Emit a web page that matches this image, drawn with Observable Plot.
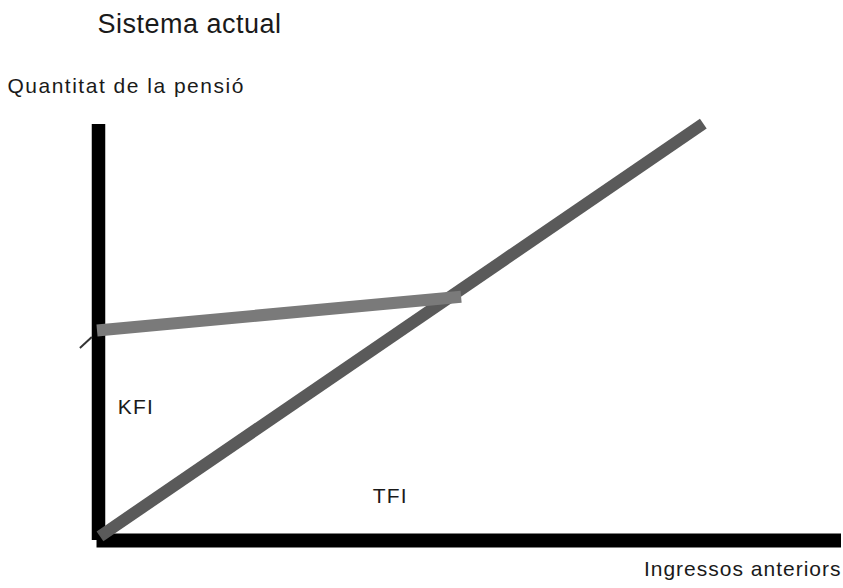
<!DOCTYPE html>
<html>
<head>
<meta charset="utf-8">
<script src="https://cdn.jsdelivr.net/npm/d3@7"></script>
<script src="https://cdn.jsdelivr.net/npm/@observablehq/plot@0.6"></script>
<style>
  html, body { margin: 0; padding: 0; background: #fff; }
  #chart svg { display: block; }
</style>
</head>
<body>
<div id="chart"></div>
<script>
// Chart texts
const title = "Sistema actual";
const yLabel = "Quantitat de la pensió";
const xLabel = "Ingressos anteriors";

// TFI line (pension proportional to previous income)
const tfiX = [0.2, 81.4];
const tfiY = [1.0, 100.2];

// KFI line (flat-ish minimum pension)
const kfiX = [-0.2, 48.8];
const kfiY = [50.5, 58.6];

// Small tick at the y axis
const tickX = [-2.5, -0.9];
const tickY = [46.3, 48.9];

// Area labels
const areaLabels = ["KFI", "TFI"];
const areaLabelX = [2.6, 36.9];
const areaLabelY = [30.5, 9.1];

const tfi = tfiX.map((x, i) => ({x, y: tfiY[i]}));
const kfi = kfiX.map((x, i) => ({x, y: kfiY[i]}));
const tick = tickX.map((x, i) => ({x, y: tickY[i]}));
const labels = areaLabels.map((t, i) => ({t, x: areaLabelX[i], y: areaLabelY[i]}));

const font = "'Liberation Sans', Arial, Helvetica, sans-serif";
const textColor = "#1a1a1a";

const chart = Plot.plot({
  width: 843,
  height: 588,
  marginLeft: 98,
  marginRight: 2,
  marginTop: 124,
  marginBottom: 48,
  x: {domain: [0, 100], axis: null},
  y: {domain: [0, 100], axis: null},
  style: {background: "#fff", fontFamily: font},
  marks: [
    // axes
    Plot.ruleX([0], {y1: 0, y2: 100, stroke: "#000", strokeWidth: 13.5}),
    Plot.ruleY([0], {x1: -0.2, x2: 100, stroke: "#000", strokeWidth: 14}),
    // tick
    Plot.line(tick, {x: "x", y: "y", stroke: "#333", strokeWidth: 2, strokeLinecap: "butt"}),
    // TFI line
    Plot.line(tfi, {x: "x", y: "y", stroke: "#5a5a5a", strokeWidth: 12, strokeLinecap: "butt"}),
    // KFI line
    Plot.line(kfi, {x: "x", y: "y", stroke: "#7a7a7a", strokeWidth: 12, strokeLinecap: "butt"}),
    // area labels
    Plot.text(labels, {x: "x", y: "y", text: "t", textAnchor: "start", lineAnchor: "bottom",
      fontSize: 21, fill: textColor, className: "ls-12"}),
    // title
    Plot.text([title], {frameAnchor: "top-left", dx: -1, dy: -92, textAnchor: "start", lineAnchor: "bottom",
      fontSize: 27, fill: textColor, className: "ls-05"}),
    // y label
    Plot.text([yLabel], {frameAnchor: "top-left", dx: -91, dy: -32, textAnchor: "start", lineAnchor: "bottom",
      fontSize: 21, fill: textColor, className: "ls-15"}),
    // x label
    Plot.text([xLabel], {frameAnchor: "bottom-right", dx: 0, dy: 35, textAnchor: "end", lineAnchor: "bottom",
      fontSize: 21, fill: textColor, className: "ls-10"})
  ]
});

// letter spacing to match the wider rendering of the reference text
const spacing = {"ls-05": "0.5px", "ls-10": "1.0px", "ls-12": "1.2px", "ls-15": "1.5px"};
for (const [cls, v] of Object.entries(spacing)) {
  d3.select(chart).selectAll("g." + cls + " text").style("letter-spacing", v);
}

document.getElementById("chart").appendChild(chart);
</script>
</body>
</html>
